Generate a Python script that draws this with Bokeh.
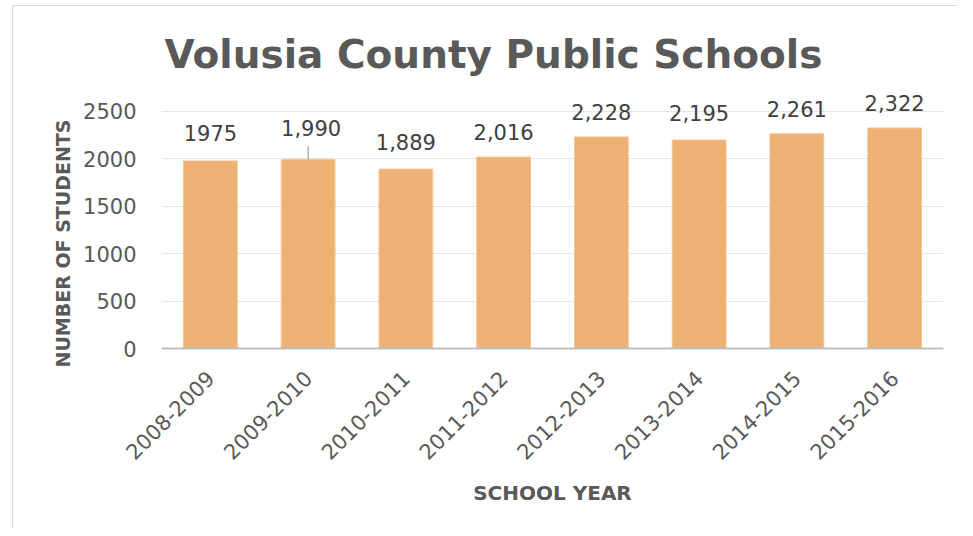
from bokeh.plotting import figure
from bokeh.models import FactorRange, Range1d, Title, ColumnDataSource, SingleIntervalTicker
from bokeh.embed import file_html
from bokeh.resources import INLINE
from bokeh.core.properties import value
import math

years = ["2008-2009", "2009-2010", "2010-2011", "2011-2012",
         "2012-2013", "2013-2014", "2014-2015", "2015-2016"]
students = [1975, 1990, 1889, 2016, 2228, 2195, 2261, 2322]
label_text = ["1975", "1,990", "1,889", "2,016", "2,228", "2,195", "2,261", "2,322"]
label_lift = [28, 32, 27, 25, 25, 27, 25, 25]
label_shift = [0, 3, 0, 0, 0, 0, 0, 0]

FONT = "DejaVu Sans"

p = figure(x_range=FactorRange(*years), y_range=Range1d(0, 2780),
           width=957, height=528, output_backend="svg", toolbar_location=None,
           min_border_left=161, min_border_right=14, min_border_bottom=180,
           min_border_top=84)

# chart area border (left and top edges visible, as in the reference)
p.border_fill_color = None
p.background_fill_color = None
p.styles = {
    "background": ("linear-gradient(#d9d9d9, #d9d9d9) 12px 5px / 1px 100% no-repeat, "
                   "linear-gradient(#d9d9d9, #d9d9d9) 12px 5px / 100% 1px no-repeat, "
                   "#ffffff"),
}

t = Title(text="Volusia County Public Schools", align="left", offset=3,
          text_font=FONT, text_font_size="39px", text_font_style="bold",
          text_color="#595959", standoff=15)
p.add_layout(t, "above")

ytitle = Title(text="NUMBER OF STUDENTS", align="left", offset=-19,
               text_font=FONT, text_font_size="19px", text_font_style="bold",
               text_color="#595959", standoff=14)
p.add_layout(ytitle, "left")

src = ColumnDataSource(dict(x=years, y=students, lab=label_text,
                            off=[-l for l in label_lift], xoff=label_shift))
p.vbar(x="x", top="y", width=0.55, source=src, fill_color="#EDB174",
       line_color="#F2C496", line_width=1)
p.text(x="x", y="y", text="lab", y_offset="off", x_offset="xoff", source=src,
       text_align="center", text_baseline="middle",
       text_font=value(FONT), text_font_size="21px", text_color="#404040")

# leader line for the moved label
p.segment(x0=[years[1]], y0=[students[1]], x1=[years[1]], y1=[students[1] + 140],
          line_color="#8c8c8c", line_width=1)

p.outline_line_color = None
p.xgrid.grid_line_color = None
p.ygrid.grid_line_color = "#e6e6e6"
p.ygrid.grid_line_width = 1

p.yaxis.ticker = SingleIntervalTicker(interval=500)
p.yaxis.axis_line_color = None
p.yaxis.major_tick_line_color = None
p.yaxis.minor_tick_line_color = None
p.yaxis.major_label_standoff = 19
p.yaxis.major_label_text_font = FONT
p.yaxis.major_label_text_font_size = "21px"
p.yaxis.major_label_text_color = "#595959"

p.xaxis.axis_line_color = "#bfbfbf"
p.xaxis.axis_line_width = 2
p.xaxis.major_tick_line_color = None
p.xaxis.minor_tick_line_color = None
p.xaxis.major_label_orientation = math.pi / 4
p.xaxis.major_label_standoff = 20
p.xaxis.major_label_text_font = FONT
p.xaxis.major_label_text_font_size = "21px"
p.xaxis.major_label_text_color = "#595959"
p.xaxis.axis_label = "SCHOOL YEAR"
p.xaxis.axis_label_text_font = FONT
p.xaxis.axis_label_text_font_size = "20px"
p.xaxis.axis_label_text_font_style = "bold"
p.xaxis.axis_label_text_color = "#595959"
p.xaxis.axis_label_standoff = 11

open("out.html", "w").write(file_html(p, INLINE))
